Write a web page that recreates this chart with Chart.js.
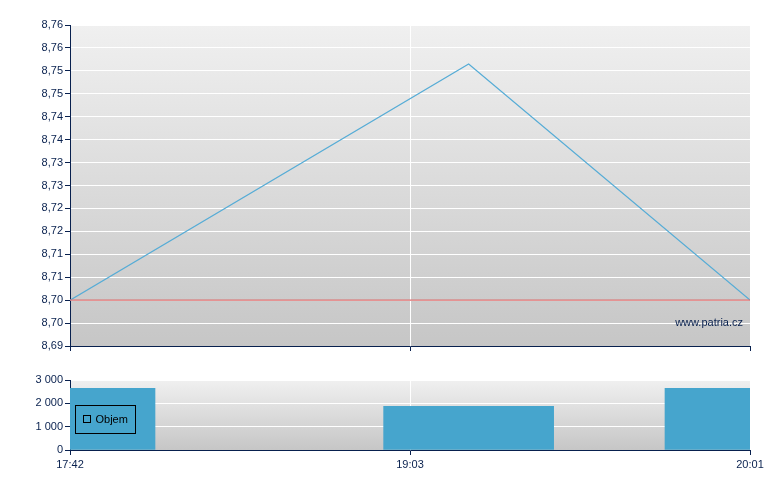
<!DOCTYPE html>
<html>
<head>
<meta charset="utf-8">
<script src="https://cdn.jsdelivr.net/npm/chart.js@4.4.0/dist/chart.umd.min.js"></script>
<style>
  body { margin: 0; background: #fff; }
  #top { position: absolute; left: 0; top: 0; }
  #bottom { position: absolute; left: 0; top: 360px; }
</style>
</head>
<body>
<canvas id="top" width="780" height="360"></canvas>
<canvas id="bottom" width="780" height="130"></canvas>
<script>
// time axis labels and where they sit on the index axis
var xTickLabels = ['17:42', '19:03', '20:01'];
var xTickPos = [0, 4, 8];

// price line
var pricePos = [0, 4.69, 8];
var prices = [8.70, 8.7515, 8.70];
var refPrice = 8.70;

// volume bars
var volPos = [0, 4.69, 8];
var volumes = [2640, 1870, 2640];

var yTickLabels = ['8,69', '8,70', '8,70', '8,71', '8,71', '8,72', '8,72', '8,73',
                   '8,73', '8,74', '8,74', '8,75', '8,75', '8,76', '8,76'];
var volTickLabels = ['0', '1 000', '2 000', '3 000'];

var navy = '#08204e';
var font = { family: 'Liberation Sans, Arial, sans-serif', size: 11 };

var bgPlugin = {
  id: 'bg',
  beforeDraw: function(chart) {
    var a = chart.chartArea, ctx = chart.ctx;
    var g = ctx.createLinearGradient(0, a.top, 0, a.bottom);
    g.addColorStop(0, '#f0f0f0');
    g.addColorStop(1, '#c6c6c6');
    ctx.save();
    ctx.fillStyle = g;
    ctx.fillRect(a.left, a.top, a.right - a.left, a.bottom - a.top);
    ctx.restore();
  }
};

function xLabel(v) {
  var i = xTickPos.indexOf(v);
  return i >= 0 ? xTickLabels[i] : '';
}

function xGrid(ctx) {
  var n = ctx.scale.ticks.length;
  return (ctx.index === 0 || ctx.index === n - 1) ? 'rgba(0,0,0,0)' : '#ffffff';
}

function yGrid(ctx) {
  return ctx.index === 0 ? 'rgba(0,0,0,0)' : '#ffffff';
}

var pricePoints = pricePos.map(function(x, i) { return { x: x, y: prices[i] }; });
var refPoints = [{ x: xTickPos[0], y: refPrice }, { x: xTickPos[xTickPos.length - 1], y: refPrice }];

new Chart(document.getElementById('top'), {
  type: 'line',
  data: {
    datasets: [
      { data: refPoints, borderColor: '#dc6f6f', borderWidth: 1.2, pointRadius: 0 },
      { data: pricePoints, borderColor: '#56acd6', borderWidth: 1.2, pointRadius: 0, tension: 0 }
    ]
  },
  options: {
    responsive: false,
    animation: false,
    layout: { padding: { left: 0, right: 30, top: 25, bottom: 0 } },
    plugins: {
      legend: { display: false },
      tooltip: { enabled: false }
    },
    scales: {
      x: {
        type: 'linear', min: 0, max: 8,
        ticks: { stepSize: 4, display: false },
        grid: { color: xGrid, tickColor: navy, tickLength: 5 },
        border: { color: navy, width: 1 },
        afterFit: function(s) { s.height = 14; }
      },
      y: {
        min: 8.69, max: 8.76,
        ticks: {
          stepSize: 0.005, color: navy, font: font, padding: 2,
          callback: function(v, i) { return yTickLabels[i]; }
        },
        grid: { color: yGrid, tickColor: navy, tickLength: 5 },
        border: { color: navy, width: 1 },
        afterFit: function(s) { s.width = 70; }
      }
    }
  },
  plugins: [bgPlugin, {
    id: 'mark',
    afterDraw: function(chart) {
      var a = chart.chartArea, ctx = chart.ctx;
      ctx.save();
      ctx.fillStyle = navy;
      ctx.font = '11px Liberation Sans, Arial, sans-serif';
      ctx.textAlign = 'right';
      ctx.textBaseline = 'middle';
      ctx.fillText('www.patria.cz', a.right - 7, a.bottom - 23);
      ctx.restore();
    }
  }]
});

var volPoints = volPos.map(function(x, i) { return { x: x, y: volumes[i] }; });

new Chart(document.getElementById('bottom'), {
  type: 'bar',
  data: {
    datasets: [
      { label: 'Objem', data: volPoints, backgroundColor: '#46a5cd', borderWidth: 0, barThickness: 170 }
    ]
  },
  options: {
    responsive: false,
    animation: false,
    layout: { padding: { left: 0, right: 30, top: 20, bottom: 0 } },
    plugins: {
      legend: { display: false },
      tooltip: { enabled: false }
    },
    scales: {
      x: {
        type: 'linear', min: 0, max: 8, offset: false,
        ticks: { stepSize: 4, color: navy, font: font, padding: 3, maxRotation: 0,
                 callback: xLabel },
        grid: { color: xGrid, tickColor: navy, tickLength: 5, offset: false },
        border: { color: navy, width: 1 },
        afterFit: function(s) { s.height = 40; }
      },
      y: {
        min: 0, max: 3000,
        ticks: {
          stepSize: 1000, color: navy, font: font, padding: 2,
          callback: function(v, i) { return volTickLabels[i]; }
        },
        grid: { color: yGrid, tickColor: navy, tickLength: 5 },
        border: { color: navy, width: 1 },
        afterFit: function(s) { s.width = 70; }
      }
    }
  },
  plugins: [bgPlugin, {
    id: 'objemLegend',
    afterDraw: function(chart) {
      var a = chart.chartArea, ctx = chart.ctx;
      var bx = a.left + 5.5, by = a.top + 25.5;
      ctx.save();
      ctx.strokeStyle = '#000';
      ctx.lineWidth = 1;
      ctx.strokeRect(bx, by, 60, 28);
      ctx.strokeRect(bx + 8, by + 10, 7, 7);
      ctx.fillStyle = '#000';
      ctx.font = '11px Liberation Sans, Arial, sans-serif';
      ctx.textBaseline = 'middle';
      ctx.fillText(chart.data.datasets[0].label, bx + 20, by + 14.5);
      ctx.restore();
    }
  }]
});
</script>
</body>
</html>
